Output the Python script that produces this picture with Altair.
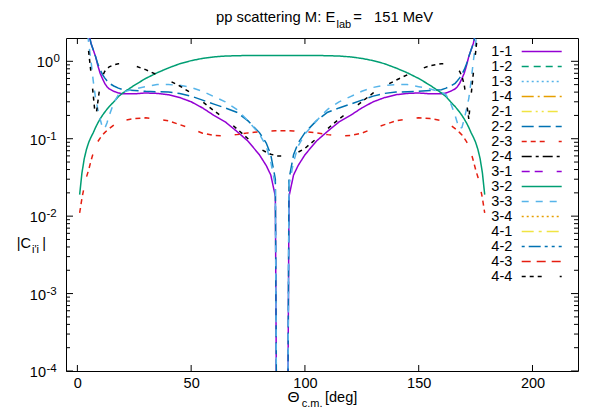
import altair as alt
import pandas as pd

# ---------------- data ----------------
THETA = [1, 2, 3, 4, 5, 6, 7, 8, 9, 10, 11, 12, 13, 14, 16, 18, 20, 25, 30, 35, 40, 45,
         50, 55, 60, 65, 70, 75, 80, 83, 85, 87, 87.6, 90,
         92.4, 93, 95, 97, 100, 105, 110, 115, 120, 125, 130, 135, 140, 145, 150, 155,
         160, 162, 164, 166, 167, 168, 169, 170, 171, 172, 173, 174, 175, 176, 177, 178, 179]

C11 = [40, 15, 6.5, 3.5, 2.3, 1.7, 1.4, 1.15, 0.88, 0.7, 0.6, 0.52, 0.47, 0.44, 0.41, 0.39,
       0.38, 0.38, 0.39, 0.385, 0.37, 0.34, 0.30, 0.25, 0.20, 0.165, 0.125, 0.093, 0.062,
       0.045, 0.034, 0.018, 1e-5, 1e-5,
       1e-5, 0.018, 0.034, 0.045, 0.062, 0.093, 0.125, 0.165, 0.20, 0.25, 0.30, 0.34, 0.37,
       0.385, 0.39, 0.38, 0.38, 0.39, 0.41, 0.44, 0.47, 0.52, 0.6, 0.7, 0.88, 1.15, 1.4, 1.7,
       2.3, 3.5, 6.5, 15, 40]

C22 = [40, 15, 6.5, 3.5, 2.3, 1.7, 1.4, 1.15, 0.92, 0.78, 0.68, 0.61, 0.56, 0.52, 0.48, 0.45,
       0.43, 0.42, 0.41, 0.405, 0.40, 0.385, 0.355, 0.315, 0.28, 0.25, 0.22, 0.17, 0.12,
       0.088, 0.062, 0.03, 1e-5, 1e-5,
       1e-5, 0.03, 0.062, 0.088, 0.12, 0.17, 0.22, 0.25, 0.28, 0.315, 0.355, 0.385, 0.40,
       0.405, 0.41, 0.42, 0.43, 0.45, 0.48, 0.52, 0.56, 0.61, 0.68, 0.78, 0.92, 1.15, 1.4, 1.7,
       2.3, 3.5, 6.5, 15, 40]

C23 = [0.011, 0.017, 0.024, 0.032, 0.04, 0.052, 0.066, 0.08, 0.092, 0.102, 0.112, 0.12, 0.128,
       0.135, 0.15, 0.165, 0.172, 0.182, 0.186, 0.18, 0.17, 0.152, 0.135, 0.118, 0.11, 0.109,
       0.113, 0.119, 0.123, 0.125, 0.126, 0.127, 0.127, 0.127,
       0.127, 0.127, 0.126, 0.125, 0.123, 0.119, 0.113, 0.109, 0.11, 0.118, 0.135, 0.152, 0.17,
       0.18, 0.186, 0.182, 0.172, 0.165, 0.15, 0.135, 0.128, 0.12, 0.112, 0.102, 0.092, 0.08,
       0.066, 0.052, 0.04, 0.032, 0.024, 0.017, 0.011]

C32 = [0.019, 0.036, 0.055, 0.073, 0.09, 0.105, 0.12, 0.14, 0.16, 0.18, 0.2, 0.22, 0.24, 0.26,
       0.3, 0.35, 0.39, 0.49, 0.6, 0.71, 0.82, 0.93, 1.02, 1.09, 1.14, 1.17, 1.18, 1.19, 1.19,
       1.19, 1.19, 1.19, 1.19, 1.19,
       1.19, 1.19, 1.19, 1.19, 1.19, 1.19, 1.18, 1.17, 1.14, 1.09, 1.02, 0.93, 0.82, 0.71, 0.6,
       0.49, 0.39, 0.35, 0.3, 0.26, 0.24, 0.22, 0.2, 0.18, 0.16, 0.14, 0.12, 0.105, 0.09, 0.073,
       0.055, 0.036, 0.019]

C33 = [40, 15, 6, 3, 1.7, 1.0, 0.55, 0.33, 0.24, 0.18, 0.14, 0.135, 0.16, 0.2, 0.29, 0.37,
       0.40, 0.44, 0.47, 0.5, 0.5, 0.49, 0.46, 0.41, 0.35, 0.3, 0.24, 0.17, 0.115, 0.08, 0.05,
       0.025, 1e-5, 1e-5,
       1e-5, 0.025, 0.05, 0.08, 0.115, 0.17, 0.24, 0.3, 0.35, 0.41, 0.46, 0.49, 0.5, 0.5, 0.47,
       0.44, 0.40, 0.37, 0.29, 0.2, 0.16, 0.135, 0.14, 0.18, 0.24, 0.33, 0.55, 1.0, 1.7, 3, 6,
       15, 40]

C44 = [40, 15, 5, 2.5, 1.3, 0.7, 0.36, 0.18, 0.3, 0.5, 0.64, 0.74, 0.8, 0.85, 0.9, 0.93, 0.93,
       0.88, 0.78, 0.67, 0.57, 0.48, 0.39, 0.3, 0.23, 0.18, 0.135, 0.1, 0.075, 0.067, 0.063,
       0.061, 0.06, 0.06,
       0.06, 0.061, 0.063, 0.067, 0.075, 0.1, 0.135, 0.18, 0.23, 0.3, 0.39, 0.48, 0.57, 0.67,
       0.78, 0.88, 0.93, 0.93, 0.9, 0.85, 0.8, 0.74, 0.64, 0.5, 0.3, 0.18, 0.36, 0.7, 1.3, 2.5,
       5, 15, 40]

SERIES = ["1-1", "1-2", "1-3", "1-4", "2-1", "2-2", "2-3", "2-4",
          "3-1", "3-2", "3-3", "3-4", "4-1", "4-2", "4-3", "4-4"]
COLORS = ["#9400d3", "#009e73", "#56b4e9", "#e69f00", "#f0e442", "#0072b2", "#e51e10", "#000000",
          "#9400d3", "#009e73", "#56b4e9", "#e69f00", "#f0e442", "#0072b2", "#e51e10", "#000000"]
DASHES = [[1, 0], [7, 5], [2, 3], [12, 4, 2, 4], [10, 4, 2, 4, 2, 4], [12, 5],
          [5, 4, 5, 4, 5, 14], [10, 4, 3, 4], [8, 5, 8, 14], [1, 0], [7, 7], [2, 3],
          [12, 5, 3, 5], [3, 4, 12, 4, 3, 4], [9, 6], [4, 4, 4, 4, 4, 18]]

CURVES = {"1-1": C11, "2-2": C22, "2-3": C23, "3-2": C32, "3-3": C33, "4-4": C44}

XTICKS = [0, 50, 100, 150, 200]
YMAJOR = [1e-4, 1e-3, 1e-2, 1e-1, 1]
YMINOR = [2e-4, 3e-4, 4e-4, 5e-4, 6e-4, 7e-4, 8e-4, 9e-4,
          2e-3, 3e-3, 4e-3, 5e-3, 6e-3, 7e-3, 8e-3, 9e-3,
          2e-2, 3e-2, 4e-2, 5e-2, 6e-2, 7e-2, 8e-2, 9e-2,
          2e-1, 3e-1, 4e-1, 5e-1, 6e-1, 7e-1, 8e-1, 9e-1]
YEXP = ["0", "-1", "-2", "-3", "-4"]
YEXP_VALUES = [1, 1e-1, 1e-2, 1e-3, 1e-4]

# ---------------- tables ----------------
rows = []
for s in SERIES:
    if s in CURVES:
        for t, v in zip(THETA, CURVES[s]):
            rows.append({"theta": t, "value": v, "series": s})
df = pd.DataFrame(rows)
leg = pd.DataFrame({"series": SERIES, "row": list(range(len(SERIES)))})
xt = pd.DataFrame({"t": XTICKS})
ymaj = pd.DataFrame({"v": YMAJOR})
ymin = pd.DataFrame({"v": YMINOR})
ylab = pd.DataFrame({"v": YEXP_VALUES, "e": YEXP})

# ---------------- chart ----------------
FONT = "Liberation Sans"
FS = 14.5
W, H = 512, 333

xscale = alt.Scale(domain=[-5, 220], nice=False, zero=False)
yscale = alt.Scale(type="log", domain=[1e-4, 2], nice=False)
xaxis = alt.Axis(values=XTICKS, ticks=False, tickSize=0, domain=False, grid=False, title=None,
                 labelFont=FONT, labelFontSize=FS, labelColor="black", labelPadding=5)
color = alt.Color("series:N", scale=alt.Scale(domain=SERIES, range=COLORS), legend=None)
dash = alt.StrokeDash("series:N", scale=alt.Scale(domain=SERIES, range=DASHES), legend=None)

lines = alt.Chart(df).mark_line(clip=True, strokeWidth=1.5).encode(
    x=alt.X("theta:Q", scale=xscale, axis=xaxis),
    y=alt.Y("value:Q", scale=yscale, axis=None),
    color=color,
    strokeDash=dash,
)

def xticks(y0, y1):
    return alt.Chart(xt).mark_rule(color="black", strokeWidth=1).encode(
        x=alt.X("t:Q", scale=xscale, axis=xaxis), y=alt.value(y0), y2=alt.value(y1))

def yticks(data, x0, x1):
    return alt.Chart(data).mark_rule(color="black", strokeWidth=1).encode(
        y=alt.Y("v:Q", scale=yscale, axis=None), x=alt.value(x0), x2=alt.value(x1))

tick_layers = [
    xticks(H - 6, H), xticks(0, 6),
    yticks(ymaj, 0, 7), yticks(ymaj, W - 7, W),
    yticks(ymin, 0, 4), yticks(ymin, W - 4, W),
]

def ylabel_layers(test, x):
    ten = alt.Chart(ylab).transform_filter(test).mark_text(
        align="right", baseline="alphabetic", dy=6, font=FONT, fontSize=FS, color="black"
    ).encode(y=alt.Y("v:Q", scale=yscale, axis=None), x=alt.value(x), text=alt.value("10"))
    ex = alt.Chart(ylab).transform_filter(test).mark_text(
        align="left", baseline="alphabetic", dy=1, font=FONT, fontSize=11.5, color="black"
    ).encode(y=alt.Y("v:Q", scale=yscale, axis=None), x=alt.value(x + 0.5), text="e:N")
    return [ten, ex]

ylabels = ylabel_layers("datum.e == '0'", -13) + ylabel_layers("datum.e != '0'", -20)

def label(txt, x, y, size=FS, align="left"):
    return alt.Chart(pd.DataFrame({"t": [txt]})).mark_text(
        align=align, baseline="alphabetic", font=FONT, fontSize=size, color="black"
    ).encode(text="t:N", x=alt.value(x), y=alt.value(y))

texts = [
    label("pp scattering M: E", 150, -16.5, 14.8),
    label("lab", 270.5, -10.5, 11),
    label("=", 287.3, -16.5, 14.8),
    label("151 MeV", 308, -16.5, 14.8),
    label("\u0398", 221.5, 363.7, 15.5),
    label("c.m.", 235.7, 368.7, 11),
    label("[deg]", 259, 363.7),
    label("|C", -49.3, 210.3),
    label("i'i", -34, 215.3, 11),
    label("|", -23.7, 210.3),
]

leg_y = alt.Y("row:Q", scale=alt.Scale(domain=[-0.9, 21.3], reverse=True, nice=False, zero=False),
              axis=None)
leg_text = alt.Chart(leg).mark_text(
    align="right", baseline="middle", font=FONT, fontSize=FS, color="black"
).encode(text="series:N", x=alt.value(446.3), y=leg_y)
leg_line = alt.Chart(leg).mark_rule(strokeWidth=1.5).encode(
    x=alt.value(455.7), x2=alt.value(495.7), y=leg_y, color=color, strokeDash=dash)

chart = alt.layer(
    lines, *tick_layers, *ylabels, *texts, leg_text, leg_line
).resolve_scale(
    y="independent"
).properties(
    width=W, height=H,
    padding={"left": 58, "top": 30, "right": 14, "bottom": 41},
    autosize=alt.AutoSizeParams(type="none"),
    background="white",
).configure_view(stroke="black", strokeWidth=1)

chart.save("out.html", embed_options={"renderer": "svg", "actions": False})
